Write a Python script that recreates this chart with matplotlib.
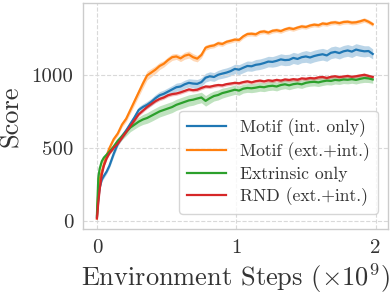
import matplotlib
matplotlib.use("Agg")
import matplotlib.pyplot as plt
import numpy as np

# ---- data (steps in units of 1e9) ----
steps = [0, 0.01, 0.02, 0.035, 0.05, 0.07, 0.09, 0.12, 0.15, 0.18, 0.21, 0.24, 0.27, 0.30, 0.33, 0.36, 0.39,
         0.42, 0.45, 0.48, 0.51, 0.54, 0.57, 0.60, 0.63, 0.66, 0.69, 0.72, 0.75, 0.78, 0.81, 0.84, 0.87, 0.90,
         0.93, 0.96, 0.99, 1.02, 1.05, 1.08, 1.11, 1.14, 1.17, 1.20, 1.23, 1.26, 1.29, 1.32, 1.35, 1.38, 1.41,
         1.44, 1.47, 1.50, 1.53, 1.56, 1.59, 1.62, 1.65, 1.68, 1.71, 1.74, 1.77, 1.80, 1.83, 1.86, 1.89, 1.92,
         1.95, 1.98]

motif_int = [30, 150, 230, 285, 310, 340, 380, 460, 530, 580, 620, 665, 710, 760, 780, 795, 815,
             840, 860, 870, 885, 900, 915, 920, 935, 945, 940, 938, 950, 980, 990, 985, 1000, 1008,
             1015, 1025, 1040, 1035, 1048, 1060, 1058, 1068, 1072, 1080, 1090, 1088, 1095, 1105, 1100, 1102, 1115,
             1108, 1120, 1125, 1118, 1128, 1135, 1140, 1132, 1150, 1156, 1148, 1160, 1166, 1158, 1172, 1165, 1160,
             1162, 1142]
motif_int_sd = [5, 10, 12, 14, 15, 15, 15, 18, 18, 20, 20, 20, 22, 22, 22, 24, 24,
                25, 25, 26, 26, 26, 28, 28, 28, 28, 30, 30, 30, 30, 30, 30, 30, 32,
                32, 32, 32, 34, 34, 34, 34, 36, 36, 36, 36, 36, 38, 38, 38, 38, 38,
                38, 38, 40, 40, 40, 40, 40, 40, 40, 40, 40, 40, 40, 40, 40, 40, 38,
                36, 34]

motif_ext_int = [20, 200, 290, 340, 390, 450, 500, 560, 600, 660, 700, 760, 820, 880, 940, 995, 1015,
                 1035, 1060, 1075, 1100, 1120, 1125, 1112, 1130, 1138, 1120, 1110, 1135, 1185, 1195, 1200, 1215, 1210,
                 1225, 1232, 1240, 1238, 1262, 1278, 1280, 1276, 1292, 1296, 1288, 1300, 1304, 1298, 1310, 1318, 1312,
                 1322, 1330, 1326, 1336, 1342, 1338, 1350, 1346, 1355, 1358, 1352, 1360, 1362, 1356, 1358, 1365, 1374,
                 1362, 1345]
motif_ext_int_sd = [5, 10, 10, 12, 12, 12, 14, 14, 16, 18, 20, 24, 26, 28, 30, 30, 28,
                    26, 24, 22, 22, 22, 20, 22, 24, 24, 24, 22, 20, 18, 16, 16, 16, 16,
                    15, 15, 15, 15, 15, 15, 15, 15, 15, 15, 15, 15, 15, 15, 15, 15, 15,
                    15, 15, 15, 15, 15, 15, 15, 15, 15, 15, 15, 15, 15, 15, 15, 15, 15,
                    15, 15]

extrinsic = [40, 300, 360, 410, 435, 455, 475, 510, 550, 580, 610, 640, 660, 680, 695, 705, 720,
             735, 750, 760, 770, 780, 795, 805, 815, 825, 830, 838, 845, 822, 840, 855, 862, 875,
             882, 890, 898, 892, 905, 910, 908, 912, 918, 915, 922, 925, 920, 930, 935, 928, 936,
             940, 935, 945, 950, 952, 948, 955, 960, 958, 965, 962, 968, 966, 970, 965, 972, 978,
             975, 968]
extrinsic_sd = [5, 10, 12, 14, 15, 16, 18, 20, 22, 24, 26, 28, 30, 32, 34, 36, 38,
                38, 38, 38, 38, 38, 38, 38, 38, 38, 38, 36, 36, 36, 36, 34, 34, 34,
                32, 32, 32, 32, 30, 30, 30, 30, 30, 30, 30, 30, 30, 30, 30, 30, 30,
                28, 28, 28, 28, 28, 28, 28, 28, 28, 28, 28, 28, 28, 28, 28, 28, 30,
                28, 26]

rnd = [20, 130, 220, 320, 380, 430, 465, 500, 530, 570, 610, 650, 690, 730, 755, 780, 800,
       820, 835, 845, 860, 868, 872, 880, 890, 900, 895, 898, 910, 920, 918, 925, 930, 928,
       936, 940, 945, 942, 950, 955, 948, 956, 960, 955, 962, 958, 965, 960, 968, 964, 970,
       966, 975, 972, 978, 975, 982, 985, 978, 986, 990, 984, 988, 992, 986, 990, 995, 1000,
       992, 985]
rnd_sd = [5, 8, 10, 10, 10, 10, 10, 10, 10, 10, 10, 10, 12, 12, 12, 12, 12,
          12, 12, 12, 12, 12, 12, 12, 12, 12, 12, 12, 12, 12, 12, 12, 12, 12,
          12, 12, 12, 12, 12, 12, 12, 12, 12, 12, 12, 12, 12, 12, 12, 12, 12,
          12, 12, 12, 12, 12, 12, 12, 12, 12, 12, 12, 12, 12, 12, 12, 12, 12,
          12, 12]

labels = ["Motif (int. only)", "Motif (ext.+int.)", "Extrinsic only", "RND (ext.+int.)"]
colors = ["#1f77b4", "#ff7f0e", "#2ca02c", "#d62728"]
xticks = [0, 1, 2]
yticks = [0, 500, 1000]

plt.rcParams.update({
    "font.family": "serif",
    "font.serif": ["cmr10"],
    "mathtext.fontset": "cm",
    "axes.unicode_minus": False,
    "axes.formatter.use_mathtext": True,
    "text.color": "#333333",
    "axes.labelcolor": "#333333",
    "xtick.color": "#333333",
    "ytick.color": "#333333",
})

fig = plt.figure(figsize=(3.90, 2.96), dpi=100)
ax = fig.add_axes([0.213, 0.225, 0.782, 0.765])

series = [(motif_int, motif_int_sd), (motif_ext_int, motif_ext_int_sd), (extrinsic, extrinsic_sd), (rnd, rnd_sd)]
x = np.array(steps)
for (m, sd), c, lab in zip(series, colors, labels):
    m = np.array(m, float)
    sd = np.array(sd, float)
    ax.fill_between(x, m - sd, m + sd, color=c, alpha=0.3, linewidth=0)
    ax.plot(x, m, color=c, lw=1.6, label=lab)

ax.set_xlim(-0.0995, 2.09)
ax.set_ylim(-55, 1490)
ax.set_xticks(xticks)
ax.set_yticks(yticks)
ax.set_xticklabels([str(t) for t in xticks])
ax.set_yticklabels([str(t) for t in yticks])
ax.tick_params(length=0, labelsize=15, pad=7)
ax.grid(True, linestyle="--", color="#d9d9d9", lw=0.8)
for s in ax.spines.values():
    s.set_color("#cccccc")
    s.set_linewidth(1.0)
ax.set_xlabel(r"Environment Steps ($\times10^9$)", fontsize=19, labelpad=3)
ax.set_ylabel("Score", fontsize=19, labelpad=6)

leg = ax.legend(loc="lower right", fontsize=12.7, handlelength=2.2, frameon=True,
                borderpad=0.45, labelspacing=0.3, handletextpad=0.8, fancybox=True,
                bbox_to_anchor=(0.995, 0.03))
leg.get_frame().set_edgecolor("#cccccc")

fig.savefig("out.png", dpi=100)
